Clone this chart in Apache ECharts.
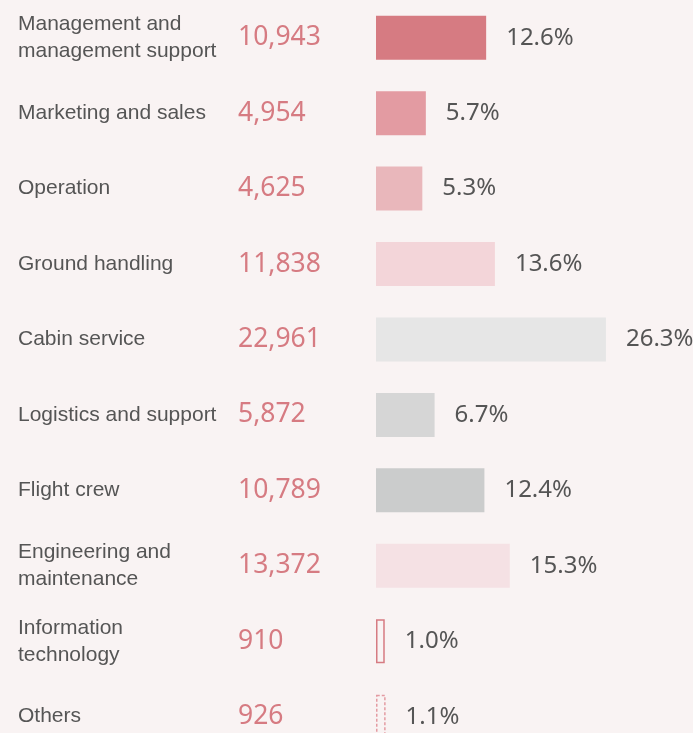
<!DOCTYPE html>
<html>
<head>
<meta charset="utf-8">
<script src="https://cdn.jsdelivr.net/npm/echarts@6/dist/echarts.min.js"></script>
<style>
  html, body { margin: 0; padding: 0; background: #f9f3f3; overflow: hidden; }
  #chart { width: 693px; height: 760px; }
</style>
</head>
<body>
<div id="chart"></div>
<script>
// Staff by job function: headcount and share of total workforce
const categories = [
  'Management and\nmanagement support',
  'Marketing and sales',
  'Operation',
  'Ground handling',
  'Cabin service',
  'Logistics and support',
  'Flight crew',
  'Engineering and\nmaintenance',
  'Information\ntechnology',
  'Others'
];
const headcounts = [10943, 4954, 4625, 11838, 22961, 5872, 10789, 13372, 910, 926];
const shares = [12.6, 5.7, 5.3, 13.6, 26.3, 6.7, 12.4, 15.3, 1.0, 1.1];

const barColors = ['#d67b82', '#e39ba2', '#e9b7bb', '#f3d5d9', '#e6e6e6',
                   '#d6d6d6', '#cbcccc', '#f5e1e4', null, null];

const chart = echarts.init(document.getElementById('chart'));

// The last two functions are drawn as outlines only (solid, then dashed)
const barData = shares.map((v, i) => {
  if (i === 8) {
    return { value: v, itemStyle: { color: 'transparent', borderColor: '#d67b82', borderWidth: 1.5 } };
  }
  if (i === 9) {
    return { value: v, itemStyle: { color: 'transparent', borderColor: '#e39ba2', borderWidth: 1.5, borderType: [3, 2] } };
  }
  return { value: v, itemStyle: { color: barColors[i] } };
});

chart.setOption({
  backgroundColor: '#f9f3f3',
  animation: false,
  grid: { left: 376, top: 0, width: 306, height: 754.4, containLabel: false },
  xAxis: { type: 'value', min: 0, max: 35, show: false },
  yAxis: [
    {
      type: 'category',
      inverse: true,
      data: categories,
      axisLine: { show: false },
      axisTick: { show: false },
      axisLabel: {
        align: 'left',
        margin: 358,
        color: '#555555',
        fontFamily: 'Liberation Sans, Arial, sans-serif',
        fontSize: 21,
        lineHeight: 27
      }
    },
    {
      type: 'category',
      position: 'left',
      inverse: true,
      data: headcounts.map(v => v.toLocaleString('en-US')),
      axisLine: { show: false },
      axisTick: { show: false },
      axisLabel: {
        align: 'left',
        margin: 138,
        color: '#d67b82',
        fontFamily: 'Noto Sans, sans-serif',
        fontSize: 26.5
      }
    }
  ],
  series: [{
    type: 'bar',
    yAxisIndex: 0,
    barWidth: 44,
    data: barData,
    label: {
      show: true,
      position: 'right',
      distance: 20,
      formatter: p => p.value.toFixed(1) + '%',
      color: '#555555',
      fontFamily: 'Noto Sans, sans-serif',
      fontSize: 24
    }
  }]
});
</script>
</body>
</html>
